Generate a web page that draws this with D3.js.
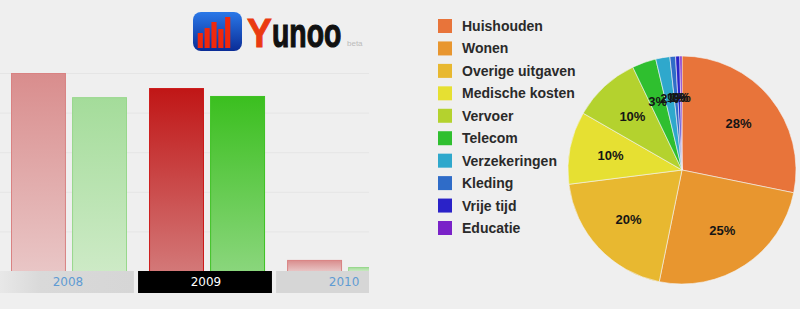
<!DOCTYPE html>
<html>
<head>
<meta charset="utf-8">
<script src="https://cdn.jsdelivr.net/npm/d3@7/dist/d3.min.js"></script>
<style>
  html, body { margin: 0; padding: 0; background: #efefef; }
  svg { display: block; }
</style>
</head>
<body>
<svg id="chart"></svg>
<script>
// bar chart: years, expenses (red) and income (green)
var years = ["2008", "2009", "2010"];
var selectedYear = "2009";
var uitgaven  = [5000, 4620, 280];
var inkomsten = [4390, 4420, 100];
var gridTicks = [1000, 2000, 3000, 4000, 5000];

// pie chart: spending categories, percent
var categories = ["Huishouden", "Wonen", "Overige uitgaven", "Medische kosten", "Vervoer",
                  "Telecom", "Verzekeringen", "Kleding", "Vrije tijd", "Educatie"];
var shares = [28.2, 25.0, 19.8, 10.3, 9.6, 3.4, 2.0, 0.8, 0.6, 0.3];
var pieColors = ["#e8743a", "#e8962f", "#e8b830", "#e6e032", "#b4d22e",
                 "#2fbf2f", "#2fa8cc", "#2f6cc8", "#2a22c8", "#7a22c8"];

// logo icon bars (decoration)
var logoBars = [15, 20, 26, 19, 31];

var svgWidth = 800, svgHeight = 309;

var svg = d3.select("#chart")
    .attr("width", svgWidth)
    .attr("height", svgHeight);

svg.append("rect")
    .attr("width", svgWidth).attr("height", svgHeight)
    .attr("fill", "#efefef");

var defs = svg.append("defs");

function vGrad(id, top, bottom) {
    var g = defs.append("linearGradient").attr("id", id)
        .attr("x1", 0).attr("y1", 0).attr("x2", 0).attr("y2", 1);
    g.append("stop").attr("offset", "0%").attr("stop-color", top);
    g.append("stop").attr("offset", "100%").attr("stop-color", bottom);
}
vGrad("redOn",  "#c01616", "#d37878");
vGrad("greenOn", "#3bbf1f", "#8ad67c");
vGrad("redOff", "#d98d8d", "#e9c6c6");
vGrad("greenOff", "#a4dc9a", "#cdeac6");
vGrad("logoBlue", "#2a78e8", "#0a2c96");

var tileGrad = defs.append("linearGradient").attr("id", "tileFade")
    .attr("x1", 0).attr("y1", 0).attr("x2", 1).attr("y2", 0);
tileGrad.append("stop").attr("offset", "0%").attr("stop-color", "#e8e8e8");
tileGrad.append("stop").attr("offset", "30%").attr("stop-color", "#d9d9d9");
tileGrad.append("stop").attr("offset", "100%").attr("stop-color", "#d6d6d6");

defs.append("clipPath").attr("id", "barClip")
    .append("rect").attr("x", 0).attr("y", 0).attr("width", 369).attr("height", 309);

// ---------- logo ----------
var logo = svg.append("g").attr("class", "logo");
logo.append("rect")
    .attr("x", 193).attr("y", 12).attr("width", 49).attr("height", 39)
    .attr("rx", 8).attr("fill", "url(#logoBlue)");

var logoX = d3.scaleBand().domain(d3.range(logoBars.length)).range([196, 232]).padding(0.25);
var logoY = d3.scaleLinear().domain([0, 32]).range([48, 16]);
logo.selectAll("rect.lb")
    .data(logoBars)
    .enter()
    .append("rect")
    .attr("class", "lb")
    .attr("x", function(d, i) { return logoX(i); })
    .attr("y", function(d) { return logoY(d); })
    .attr("width", logoX.bandwidth())
    .attr("height", function(d) { return logoY(0) - logoY(d); })
    .attr("fill", "#f0280c");

logo.append("text")
    .attr("transform", "translate(247,47) scale(0.93,1)")
    .attr("font-family", "Liberation Sans, Arial, sans-serif")
    .attr("font-weight", "bold").attr("font-size", 40)
    .attr("fill", "#ea3a10").attr("stroke", "#ea3a10").attr("stroke-width", 1)
    .text("Y");
logo.append("text")
    .attr("transform", "translate(272,47) scale(0.71,1)")
    .attr("font-family", "Liberation Sans, Arial, sans-serif")
    .attr("font-weight", "bold").attr("font-size", 40)
    .attr("fill", "#111").attr("stroke", "#111").attr("stroke-width", 1.2)
    .text("unoo");
logo.append("text")
    .attr("x", 347).attr("y", 46)
    .attr("font-family", "Liberation Sans, Arial, sans-serif")
    .attr("font-size", 8)
    .attr("fill", "#bbb")
    .text("beta");

// ---------- bar chart ----------
var baseline = 271;
var xScale = d3.scaleBand().domain(years).range([0, 410]).paddingInner(0.03);
var inner = d3.scaleBand().domain(["uitgaven", "inkomsten"]).range([11, 127]).paddingInner(0.1);
var yScale = d3.scaleLinear().domain([0, 5000]).range([baseline, 73]);

var barG = svg.append("g").attr("clip-path", "url(#barClip)");

barG.selectAll("line.grid")
    .data(gridTicks)
    .enter()
    .append("line")
    .attr("class", "grid")
    .attr("x1", 0).attr("x2", 369)
    .attr("y1", function(d) { return yScale(d) + 0.5; })
    .attr("y2", function(d) { return yScale(d) + 0.5; })
    .attr("stroke", "#e5e5e5");

var barData = [];
years.forEach(function(y, i) {
    barData.push({ year: y, series: "uitgaven", value: uitgaven[i] });
    barData.push({ year: y, series: "inkomsten", value: inkomsten[i] });
});

barG.selectAll("rect.bar")
    .data(barData)
    .enter()
    .append("rect")
    .attr("class", "bar")
    .attr("x", function(d) { return xScale(d.year) + inner(d.series) + 0.5; })
    .attr("y", function(d) { return yScale(d.value) + 0.5; })
    .attr("width", inner.bandwidth() - 1)
    .attr("height", function(d) { return baseline - yScale(d.value); })
    .attr("fill", function(d) {
        var on = d.year === selectedYear;
        if (d.series === "uitgaven") return on ? "url(#redOn)" : "url(#redOff)";
        return on ? "url(#greenOn)" : "url(#greenOff)";
    })
    .attr("stroke", function(d) {
        var on = d.year === selectedYear;
        if (d.series === "uitgaven") return on ? "#cc1a1a" : "#d98282";
        return on ? "#3cc222" : "#98d88c";
    })
    .attr("stroke-width", 1);

// year tiles under the bars
barG.selectAll("rect.tile")
    .data(years)
    .enter()
    .append("rect")
    .attr("class", "tile")
    .attr("x", function(d) { return xScale(d); })
    .attr("y", baseline)
    .attr("width", xScale.bandwidth())
    .attr("height", 22)
    .attr("fill", function(d, i) {
        if (d === selectedYear) return "#000";
        return i === 0 ? "url(#tileFade)" : "#d6d6d6";
    });

barG.selectAll("text.year")
    .data(years)
    .enter()
    .append("text")
    .attr("class", "year")
    .attr("x", function(d) { return xScale(d) + xScale.bandwidth() / 2 + 1; })
    .attr("y", baseline + 11)
    .attr("dy", "0.35em")
    .attr("text-anchor", "middle")
    .attr("font-family", "DejaVu Sans, sans-serif")
    .attr("font-size", 12)
    .attr("fill", function(d) { return d === selectedYear ? "#fff" : "#5f9bd3"; })
    .text(function(d) { return d; });

// ---------- legend ----------
var legendY = d3.scalePoint().domain(categories).range([26, 228]);
var legend = svg.append("g").attr("class", "legend");
var items = legend.selectAll("g")
    .data(categories)
    .enter()
    .append("g")
    .attr("transform", function(d) { return "translate(438," + legendY(d) + ")"; });
items.append("rect")
    .attr("x", 0).attr("y", -7).attr("width", 14).attr("height", 14)
    .attr("fill", function(d, i) { return pieColors[i]; });
items.append("text")
    .attr("x", 24).attr("y", 0).attr("dy", "0.36em")
    .attr("font-family", "Liberation Sans, Arial, sans-serif")
    .attr("font-weight", "bold").attr("font-size", 14)
    .attr("fill", "#2a2a2a")
    .text(function(d) { return d; });

// ---------- pie ----------
var radius = 114;
var pieG = svg.append("g").attr("transform", "translate(682,170)");
var pie = d3.pie().sort(null).value(function(d) { return d; });
var arc = d3.arc().innerRadius(0).outerRadius(radius);
var labelArc = d3.arc().innerRadius(radius * 0.64).outerRadius(radius * 0.64);
var arcs = pie(shares);

pieG.selectAll("path")
    .data(arcs)
    .enter()
    .append("path")
    .attr("d", arc)
    .attr("fill", function(d, i) { return pieColors[i]; })
    .attr("stroke", "#f4f4f4")
    .attr("stroke-width", 0.6);

pieG.selectAll("text")
    .data(arcs)
    .enter()
    .append("text")
    .attr("transform", function(d) { return "translate(" + labelArc.centroid(d) + ")"; })
    .attr("text-anchor", "middle")
    .attr("dy", "0.35em")
    .attr("font-family", "Liberation Sans, Arial, sans-serif")
    .attr("font-weight", "bold").attr("font-size", 13)
    .attr("fill", "#151515")
    .text(function(d) { return Math.round(d.data) + "%"; });
</script>
</body>
</html>
